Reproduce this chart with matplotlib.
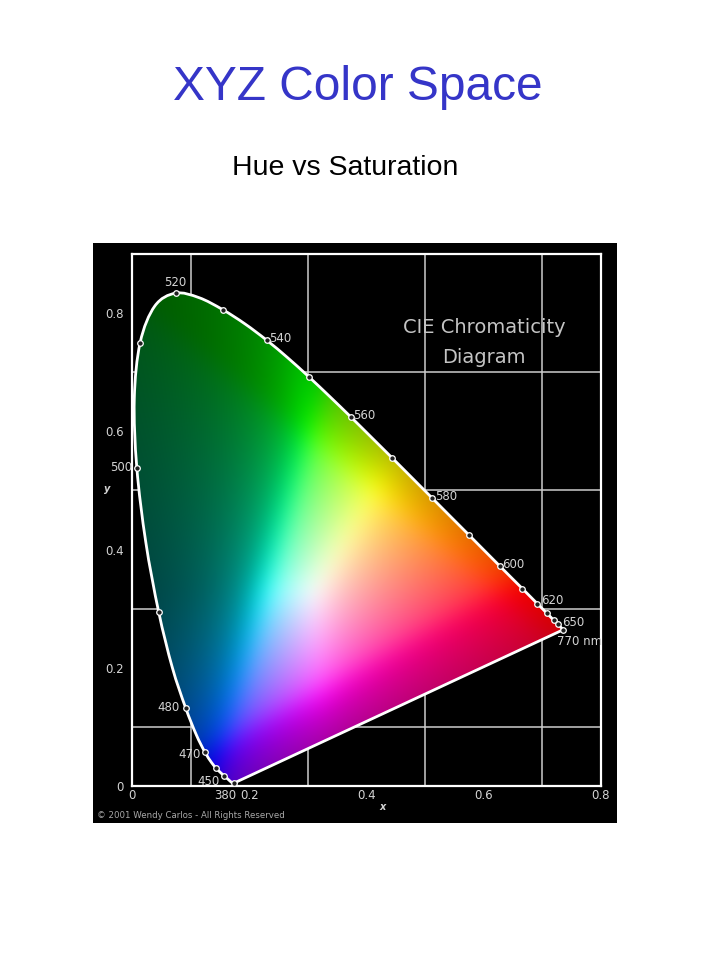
import numpy as np
import matplotlib
matplotlib.use("Agg")
import matplotlib.pyplot as plt
from matplotlib.patches import PathPatch, Rectangle
from matplotlib.path import Path

# CIE 1931 spectral locus (wavelength nm, chromaticity x, y)
wavelengths = [380, 385, 390, 395, 400, 405, 410, 415, 420, 425, 430, 435, 440, 445,
               450, 455, 460, 465, 470, 475, 480, 485, 490, 495, 500, 505, 510, 515,
               520, 525, 530, 535, 540, 545, 550, 555, 560, 565, 570, 575, 580, 585,
               590, 595, 600, 605, 610, 615, 620, 625, 630, 635, 640, 645, 650, 655,
               660, 665, 670, 680, 690, 700, 770]
locus_x = [0.1741, 0.1740, 0.1738, 0.1736, 0.1733, 0.1730, 0.1726, 0.1721, 0.1714, 0.1703,
           0.1689, 0.1669, 0.1644, 0.1611, 0.1566, 0.1510, 0.1440, 0.1355, 0.1241, 0.1096,
           0.0913, 0.0687, 0.0454, 0.0235, 0.0082, 0.0039, 0.0139, 0.0389, 0.0743, 0.1142,
           0.1547, 0.1929, 0.2296, 0.2658, 0.3016, 0.3373, 0.3731, 0.4087, 0.4441, 0.4788,
           0.5125, 0.5448, 0.5752, 0.6029, 0.6270, 0.6482, 0.6658, 0.6801, 0.6915, 0.7006,
           0.7079, 0.7140, 0.7190, 0.7230, 0.7260, 0.7283, 0.7300, 0.7311, 0.7320, 0.7334,
           0.7344, 0.7347, 0.7347]
locus_y = [0.0050, 0.0050, 0.0049, 0.0049, 0.0048, 0.0048, 0.0048, 0.0048, 0.0051, 0.0058,
           0.0069, 0.0086, 0.0109, 0.0138, 0.0177, 0.0227, 0.0297, 0.0399, 0.0578, 0.0868,
           0.1327, 0.2007, 0.2950, 0.4127, 0.5384, 0.6548, 0.7502, 0.8120, 0.8338, 0.8262,
           0.8059, 0.7816, 0.7543, 0.7243, 0.6923, 0.6589, 0.6245, 0.5896, 0.5547, 0.5202,
           0.4866, 0.4544, 0.4242, 0.3965, 0.3725, 0.3514, 0.3340, 0.3197, 0.3083, 0.2993,
           0.2920, 0.2859, 0.2809, 0.2770, 0.2740, 0.2717, 0.2700, 0.2689, 0.2680, 0.2666,
           0.2656, 0.2653, 0.2640]

# wavelengths marked with a dot, and the ones that get a label
marked = [380] + list(range(450, 660, 10)) + [770]
labels = {380: "380", 450: "450", 470: "470", 480: "480", 500: "500", 520: "520",
          540: "540", 560: "560", 580: "580", 600: "600", 620: "620", 650: "650",
          770: "770 nm"}
# label offsets in points (dx, dy, ha)
label_pos = {380: (-6, -9, "center"), 450: (-3, -4, "right"), 470: (-3, -2, "right"),
             480: (-4, 0, "right"), 500: (-3, 0, "right"), 520: (0, 8, "center"),
             540: (2, 1, "left"), 560: (2, 1, "left"), 580: (2, 1, "left"),
             600: (2, 1, "left"), 620: (3, 2, "left"), 650: (3, 1, "left"),
             770: (-4, -8, "left")}

ticks = [0, 0.2, 0.4, 0.6, 0.8]
tick_labels = ["0", "0.2", "0.4", "0.6", "0.8"]


def smooth_outline(xs, ys):
    # spectral locus drawn as a smooth bezier curve, closed by the straight purple line
    pts = np.column_stack([xs, ys])
    verts = [pts[0]]
    codes = [Path.MOVETO]
    n = len(pts)
    for i in range(n - 1):
        p0 = pts[max(i - 1, 0)]
        p1, p2 = pts[i], pts[i + 1]
        p3 = pts[min(i + 2, n - 1)]
        verts += [p1 + (p2 - p0) / 6, p2 - (p3 - p1) / 6, p2]
        codes += [Path.CURVE4] * 3
    verts += [pts[0], pts[0]]
    codes += [Path.LINETO, Path.CLOSEPOLY]
    return Path(verts, codes)


fig = plt.figure(figsize=(7.2, 9.6), dpi=100)
fig.patch.set_facecolor("white")

# black panel behind the diagram
fig.add_artist(Rectangle((93 / 720, 1 - 823 / 960), (617 - 93) / 720, (823 - 243) / 960,
                         transform=fig.transFigure, facecolor="black", edgecolor="none",
                         zorder=0))

fig.text(0.497, 1 - 100 / 960, "XYZ Color Space", ha="center", va="baseline",
         fontsize=34.5, color="#3535c8", family="Liberation Sans")
fig.text(0.479, 1 - 175 / 960, "Hue vs Saturation", ha="center", va="baseline",
         fontsize=20.5, color="black", family="Liberation Sans")

ax = fig.add_axes([132 / 720, 1 - 786 / 960, (601 - 132) / 720, (786 - 254) / 960])
ax.set_facecolor("black")
ax.set_xlim(0, 0.8)
ax.set_ylim(0, 0.9)

# colour fill: xy -> XYZ (Y=1) -> linear sRGB
n = 500
gx, gy = np.meshgrid(np.linspace(0.0005, 0.8, n), np.linspace(0.0005, 0.9, n))
X = gx / gy
Y = np.ones_like(gx)
Z = (1 - gx - gy) / gy
R = 3.2406 * X - 1.5372 * Y - 0.4986 * Z
G = -0.9689 * X + 1.8758 * Y + 0.0415 * Z
B = 0.0557 * X - 0.2040 * Y + 1.0570 * Z
rgb = np.stack([R, G, B], axis=-1)
mx = rgb.max(axis=-1, keepdims=True)
neg = np.clip(-rgb.min(axis=-1, keepdims=True), 0, None) / mx
rgb = np.clip(rgb, 0, None) / mx
rgb = rgb ** (1 / 2.2)
rgb = rgb / (1 + 2.2 * neg)
rgb = np.clip(rgb, 0, 1)

# soften the hue ridges a little
k = np.arange(-30, 31)
kern = np.exp(-0.5 * (k / 10.0) ** 2)
kern /= kern.sum()
padded = np.pad(rgb, ((30, 30), (30, 30), (0, 0)), mode="edge")
padded = np.apply_along_axis(lambda v: np.convolve(v, kern, mode="same"), 0, padded)
padded = np.apply_along_axis(lambda v: np.convolve(v, kern, mode="same"), 1, padded)
rgb = np.clip(padded[30:-30, 30:-30], 0, 1)

img = ax.imshow(rgb, extent=[0, 0.8, 0, 0.9], origin="lower", aspect="auto",
                interpolation="bilinear", zorder=1)
outline = smooth_outline(locus_x, locus_y)
gamut = PathPatch(outline, transform=ax.transData, facecolor="none", edgecolor="white",
                  lw=2, zorder=3, joinstyle="round")
ax.add_patch(gamut)
img.set_clip_path(gamut)

mx_pts = [locus_x[wavelengths.index(w)] for w in marked]
my_pts = [locus_y[wavelengths.index(w)] for w in marked]
ax.plot(mx_pts, my_pts, "o", ms=4, mfc="#202020", mec="white", mew=0.9, zorder=4)

for w, txt in labels.items():
    i = wavelengths.index(w)
    dx, dy, ha = label_pos[w]
    ax.annotate(txt, (locus_x[i], locus_y[i]), xytext=(dx, dy), textcoords="offset points",
                ha=ha, va="center", fontsize=8.5, color="#d4d4d4", zorder=5,
                annotation_clip=False)

# grid and frame
ax.set_xticks(np.arange(0, 0.81, 0.1), minor=True)
ax.set_yticks(np.arange(0, 0.91, 0.1), minor=True)
ax.grid(which="minor", color="#cccccc", lw=1.1)
ax.set_axisbelow(True)
ax.set_xticks(ticks)
ax.set_xticklabels(tick_labels)
ax.set_yticks(ticks)
ax.set_yticklabels(tick_labels)
ax.tick_params(which="both", length=0, colors="#d4d4d4", labelsize=8.5)
ax.tick_params(axis="x", pad=2)
ax.tick_params(axis="y", pad=6)
for s in ax.spines.values():
    s.set_color("white")
    s.set_linewidth(1.6)

ax.text(0.427, -0.035, "x", ha="center", va="center", fontsize=7, color="#d4d4d4",
        style="italic", fontweight="bold", clip_on=False)
ax.text(-0.042, 0.503, "y", ha="center", va="center", fontsize=7, color="#d4d4d4",
        style="italic", fontweight="bold", clip_on=False)

ax.text(0.601, 0.776, "CIE Chromaticity", ha="center", va="center", fontsize=14,
        color="#c4c4c4")
ax.text(0.601, 0.725, "Diagram", ha="center", va="center", fontsize=14, color="#c4c4c4")

fig.text(97 / 720, 1 - 815 / 960, "\u00a9 2001 Wendy Carlos - All Rights Reserved",
         ha="left", va="center", fontsize=6.2, color="#a8a8a8")

fig.savefig("out.png", dpi=100, facecolor="white")
